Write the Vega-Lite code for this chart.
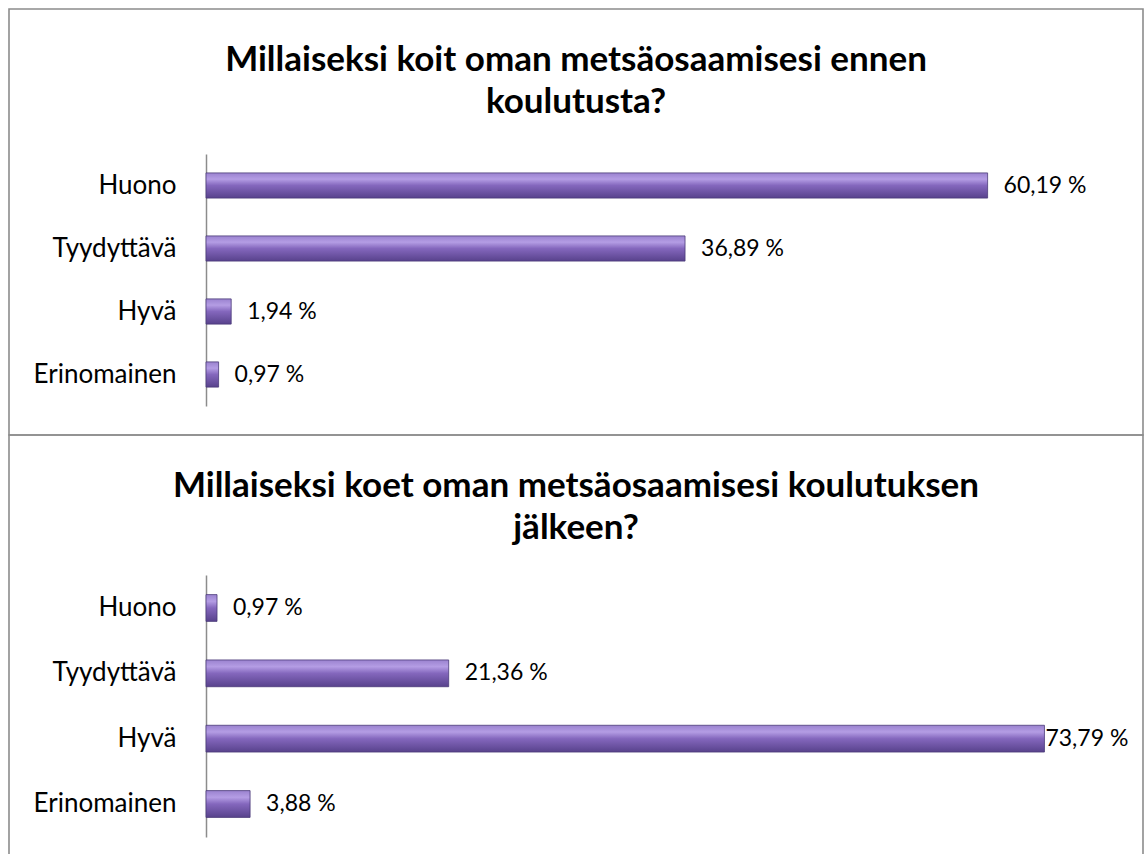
{
  "$schema": "https://vega.github.io/schema/vega-lite/v6.json",
  "padding": {"left": 8, "top": 8, "right": 2, "bottom": 0},
  "background": "white",
  "spacing": 0,
  "bounds": "flush",
  "config": {
    "locale": {"number": {"decimal": ",", "thousands": " ", "grouping": [3], "currency": ["", " €"], "percent": " %"}},
    "view": {"stroke": "#8c8c8c", "strokeWidth": 1.6},
    "font": "Lato",
    "title": {"font": "Lato", "fontSize": 35, "fontWeight": "bold", "color": "#000000", "anchor": "middle", "frame": "group", "lineHeight": 42, "baseline": "alphabetic"},
    "axis": {"labelFont": "Lato", "labelFontSize": 26, "labelColor": "#000000"}
  },
  "datasets": {
    "ennen": [
      {"kategoria": "Huono", "osuus": 0.6019},
      {"kategoria": "Tyydyttävä", "osuus": 0.3689},
      {"kategoria": "Hyvä", "osuus": 0.0194},
      {"kategoria": "Erinomainen", "osuus": 0.0097}
    ],
    "jalkeen": [
      {"kategoria": "Huono", "osuus": 0.0097},
      {"kategoria": "Tyydyttävä", "osuus": 0.2136},
      {"kategoria": "Hyvä", "osuus": 0.7379},
      {"kategoria": "Erinomainen", "osuus": 0.0388}
    ]
  },
  "vconcat": [
    {
      "width": 1134,
      "height": 426,
      "title": {"text": ["Millaiseksi koit oman metsäosaamisesi ennen", "koulutusta?"], "offset": -111},
      "data": {"name": "ennen"},
      "encoding": {
        "y": {"field": "kategoria", "type": "nominal", "sort": ["Huono", "Tyydyttävä", "Hyvä", "Erinomainen"],
              "scale": {"range": [145, 397], "paddingInner": 0.6, "paddingOuter": 0.3},
              "axis": {"title": null, "ticks": false, "domainColor": "#8c8c8c", "domainWidth": 1.5, "offset": -197, "labelPadding": 30, "grid": false}},
        "x": {"field": "osuus", "type": "quantitative", "scale": {"domain": [0, 0.7], "range": [197, 1106], "nice": false}, "axis": null}
      },
      "layer": [
        {"mark": {"type": "bar", "stroke": "#4a3a78", "strokeWidth": 0.8,
          "color": {"gradient": "linear", "x1": 0, "y1": 0, "x2": 0, "y2": 1,
            "stops": [{"offset": 0, "color": "#9a82cf"}, {"offset": 0.25, "color": "#b49de4"}, {"offset": 0.5, "color": "#8467bd"}, {"offset": 1, "color": "#58428c"}]}}},
        {"mark": {"type": "text", "align": "left", "dx": 16, "fontSize": 23, "font": "Lato", "color": "#000000"},
         "encoding": {"text": {"field": "osuus", "type": "quantitative", "format": ".2%"}}}
      ]
    },
    {
      "width": 1134,
      "height": 420,
      "title": {"text": ["Millaiseksi koet oman metsäosaamisesi koulutuksen", "jälkeen?"], "offset": -111},
      "data": {"name": "jalkeen"},
      "encoding": {
        "y": {"field": "kategoria", "type": "nominal", "sort": ["Huono", "Tyydyttävä", "Hyvä", "Erinomainen"],
              "scale": {"range": [140, 402], "paddingInner": 0.59, "paddingOuter": 0.3},
              "axis": {"title": null, "ticks": false, "domainColor": "#8c8c8c", "domainWidth": 1.5, "offset": -197, "labelPadding": 30, "grid": false}},
        "x": {"field": "osuus", "type": "quantitative", "scale": {"domain": [0, 0.8], "range": [197, 1106], "nice": false}, "axis": null}
      },
      "layer": [
        {"mark": {"type": "bar", "stroke": "#4a3a78", "strokeWidth": 0.8,
          "color": {"gradient": "linear", "x1": 0, "y1": 0, "x2": 0, "y2": 1,
            "stops": [{"offset": 0, "color": "#9a82cf"}, {"offset": 0.25, "color": "#b49de4"}, {"offset": 0.5, "color": "#8467bd"}, {"offset": 1, "color": "#58428c"}]}}},
        {"transform": [{"filter": "datum.osuus < 0.7"}],
         "mark": {"type": "text", "align": "left", "dx": 16, "fontSize": 23, "font": "Lato", "color": "#000000"},
         "encoding": {"text": {"field": "osuus", "type": "quantitative", "format": ".2%"}}},
        {"transform": [{"filter": "datum.osuus >= 0.7"}],
         "mark": {"type": "text", "align": "left", "dx": 1, "fontSize": 23, "font": "Lato", "color": "#000000"},
         "encoding": {"text": {"field": "osuus", "type": "quantitative", "format": ".2%"}}}
      ]
    }
  ]
}
